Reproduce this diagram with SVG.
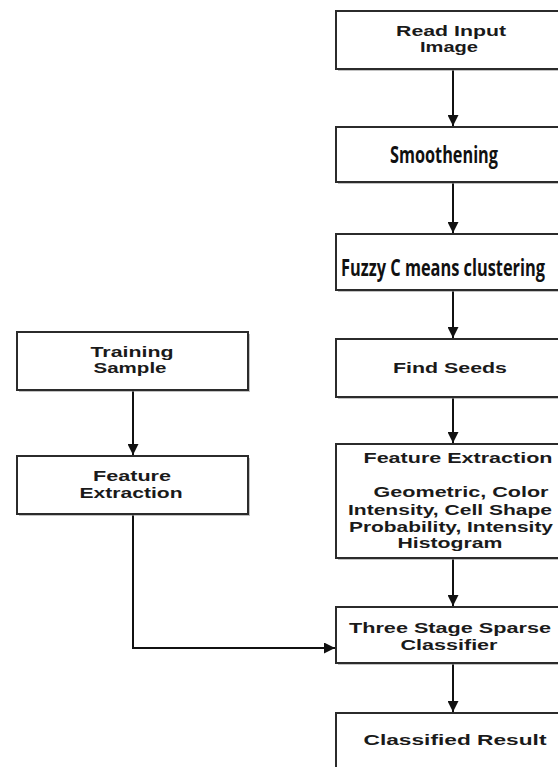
<svg xmlns="http://www.w3.org/2000/svg" width="558" height="767" viewBox="0 0 558 767">
<style>
.box{fill:#fff;stroke:#2b2b2b;stroke-width:2}
.sh{fill:#9a9a9a;opacity:0.6}
.t{font-family:"Liberation Sans",Arial,sans-serif;font-weight:bold;font-size:15px;fill:#1a1a1a;text-anchor:middle}
.c{font-family:"Liberation Sans Narrow","Open Sans",sans-serif;font-weight:bold;font-size:23px;fill:#111;text-anchor:middle}
.ln{fill:none;stroke:#111;stroke-width:2}
</style>
<defs>
<marker id="ah" viewBox="0 0 10 10" refX="10" refY="5" markerWidth="5.5" markerHeight="5.5" orient="auto" markerUnits="strokeWidth">
<path d="M0,0 L10,5 L0,10 z" fill="#111"/>
</marker>
</defs>
<rect width="558" height="767" fill="#fff"/>
<g id="connectors">
<line class="ln" x1="453" y1="69" x2="453" y2="126" marker-end="url(#ah)"/>
<line class="ln" x1="453" y1="183" x2="453" y2="233" marker-end="url(#ah)"/>
<line class="ln" x1="453" y1="291" x2="453" y2="338" marker-end="url(#ah)"/>
<line class="ln" x1="453" y1="397" x2="453" y2="443" marker-end="url(#ah)"/>
<line class="ln" x1="453" y1="558" x2="453" y2="606" marker-end="url(#ah)"/>
<line class="ln" x1="453" y1="663" x2="453" y2="712" marker-end="url(#ah)"/>
<line class="ln" x1="133" y1="390" x2="133" y2="455" marker-end="url(#ah)"/>
<polyline class="ln" points="133,514 133,648 335,648" marker-end="url(#ah)"/>
</g>
<g id="read-input">
<rect class="sh" x="338" y="13" width="234" height="58"/>
<rect class="box" x="336" y="11" width="234" height="58"/>
<text class="t" x="451" y="36" textLength="110" lengthAdjust="spacingAndGlyphs">Read Input</text>
<text class="t" x="449" y="52" textLength="58" lengthAdjust="spacingAndGlyphs">Image</text>
</g>
<g id="smoothening">
<rect class="sh" x="338" y="129" width="234" height="55"/>
<rect class="box" x="336" y="127" width="234" height="55"/>
<text class="c" x="444" y="163" textLength="108" lengthAdjust="spacingAndGlyphs">Smoothening</text>
</g>
<g id="fuzzy">
<rect class="sh" x="338" y="236" width="234" height="56"/>
<rect class="box" x="336" y="234" width="234" height="56"/>
<text class="c" x="443" y="276" textLength="204" lengthAdjust="spacingAndGlyphs">Fuzzy C means clustering</text>
</g>
<g id="find-seeds">
<rect class="sh" x="338" y="341" width="234" height="58"/>
<rect class="box" x="336" y="339" width="234" height="58"/>
<text class="t" x="450" y="373" textLength="114" lengthAdjust="spacingAndGlyphs">Find Seeds</text>
</g>
<g id="feature-extraction-right">
<rect class="sh" x="338" y="446" width="234" height="114"/>
<rect class="box" x="336" y="444" width="234" height="114"/>
<text class="t" x="458" y="463" textLength="189" lengthAdjust="spacingAndGlyphs">Feature Extraction</text>
<text class="t" x="461" y="497" textLength="175" lengthAdjust="spacingAndGlyphs">Geometric, Color</text>
<text class="t" x="450" y="515" textLength="204" lengthAdjust="spacingAndGlyphs">Intensity, Cell Shape</text>
<text class="t" x="451" y="532" textLength="204" lengthAdjust="spacingAndGlyphs">Probability, Intensity</text>
<text class="t" x="450" y="548" textLength="105" lengthAdjust="spacingAndGlyphs">Histogram</text>
</g>
<g id="three-stage">
<rect class="sh" x="338" y="609" width="234" height="56"/>
<rect class="box" x="336" y="607" width="234" height="56"/>
<text class="t" x="450" y="633" textLength="202" lengthAdjust="spacingAndGlyphs">Three Stage Sparse</text>
<text class="t" x="449" y="650" textLength="97" lengthAdjust="spacingAndGlyphs">Classifier</text>
</g>
<g id="classified-result">
<rect class="sh" x="338" y="715" width="234" height="60"/>
<rect class="box" x="336" y="713" width="234" height="60"/>
<text class="t" x="455" y="745" textLength="183" lengthAdjust="spacingAndGlyphs">Classified Result</text>
</g>
<g id="training-sample">
<rect class="sh" x="19" y="334" width="231" height="58"/>
<rect class="box" x="17" y="332" width="231" height="58"/>
<text class="t" x="132" y="357" textLength="83" lengthAdjust="spacingAndGlyphs">Training</text>
<text class="t" x="130" y="373" textLength="73" lengthAdjust="spacingAndGlyphs">Sample</text>
</g>
<g id="feature-extraction-left">
<rect class="sh" x="19" y="458" width="231" height="58"/>
<rect class="box" x="17" y="456" width="231" height="58"/>
<text class="t" x="132" y="481" textLength="78" lengthAdjust="spacingAndGlyphs">Feature</text>
<text class="t" x="131" y="498" textLength="103" lengthAdjust="spacingAndGlyphs">Extraction</text>
</g>
</svg>
